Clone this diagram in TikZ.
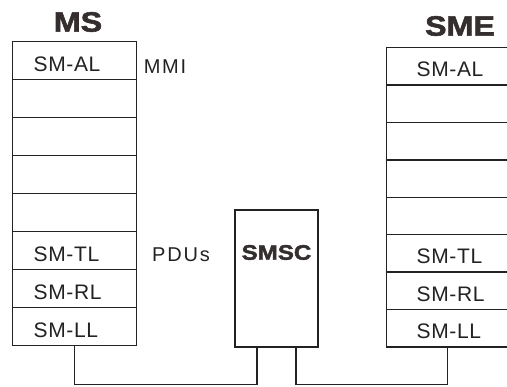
\documentclass[tikz,border=0pt]{standalone}
\usepackage{fontspec}
\setmainfont{Liberation Sans}
\newfontfamily\layerfont[LetterSpace=3]{Liberation Sans}
\newfontfamily\sidefont[LetterSpace=9]{Liberation Sans}
\newfontfamily\titlefont[FakeStretch=1.15, FakeBold=2]{Liberation Sans}
\usetikzlibrary{positioning}
\definecolor{inkgray}{RGB}{34,34,34}
\definecolor{titlegray}{RGB}{52,46,46}
\tikzset{
  layer/.style={
    rectangle, draw=inkgray, line width=1.4pt, fill=white,
    anchor=north west, minimum height=38pt, inner ysep=0pt,
    text height=21pt, text depth=0pt,
    align=left, text=inkgray, font=\layerfont\fontsize{21}{21}\selectfont
  },
  ms layer/.style={layer, text width=82pt, inner xsep=21pt},
  sme layer/.style={layer, text width=70pt, inner xsep=30pt, minimum height=37.4pt},
  hub/.style={
    rectangle, draw=inkgray, line width=1.4pt, fill=white,
    minimum width=83pt, minimum height=137pt
  },
  stack title/.style={text=titlegray, font=\titlefont\bfseries\fontsize{28}{28}\selectfont},
  hub title/.style={text=titlegray, font=\titlefont\bfseries\fontsize{21}{21}\selectfont},
  side label/.style={text=inkgray, font=\sidefont\fontsize{20}{20}\selectfont},
  link/.style={draw=inkgray, line width=1.4pt}
}

\begin{document}
\begin{tikzpicture}[x=1pt, y=-1pt]
    \useasboundingbox (0,0) rectangle (507,387);
    % protocol stack of the mobile station
    \foreach \name [count=\i] in {SM-AL,{},{},{},{},SM-TL,SM-RL,SM-LL}
      \node[ms layer] (ms\i) at (12,{41+38*(\i-1)}) {\name};
    % protocol stack of the short message entity
    \foreach \name [count=\i] in {SM-AL,{},{},{},{},SM-TL,SM-RL,SM-LL}
      \node[sme layer] (sme\i) at (386,{47+37.4*(\i-1)}) {\name};
    \node[stack title] (ms title) at (78,22) {MS};
    \node[stack title] (sme title) at (460,26) {SME};
    \node[side label] (mmi) at (165,67) {MMI};
    \node[side label] (pdus) at (181,255) {PDUs};
    % service centre
    \node[hub] (smsc) at (276.5,278.5) {};
    \node[hub title] (smsc title) at ([yshift=26pt]smsc.center) {SMSC};
    \draw[link] (ms8.south) -- ++(0,38) -| ([xshift=-19.5pt]smsc.south);
    \draw[link] ([xshift=19.5pt]smsc.south) -- ++(0,37) -| ([xshift=-4pt]sme8.south);
\end{tikzpicture}
\end{document}
